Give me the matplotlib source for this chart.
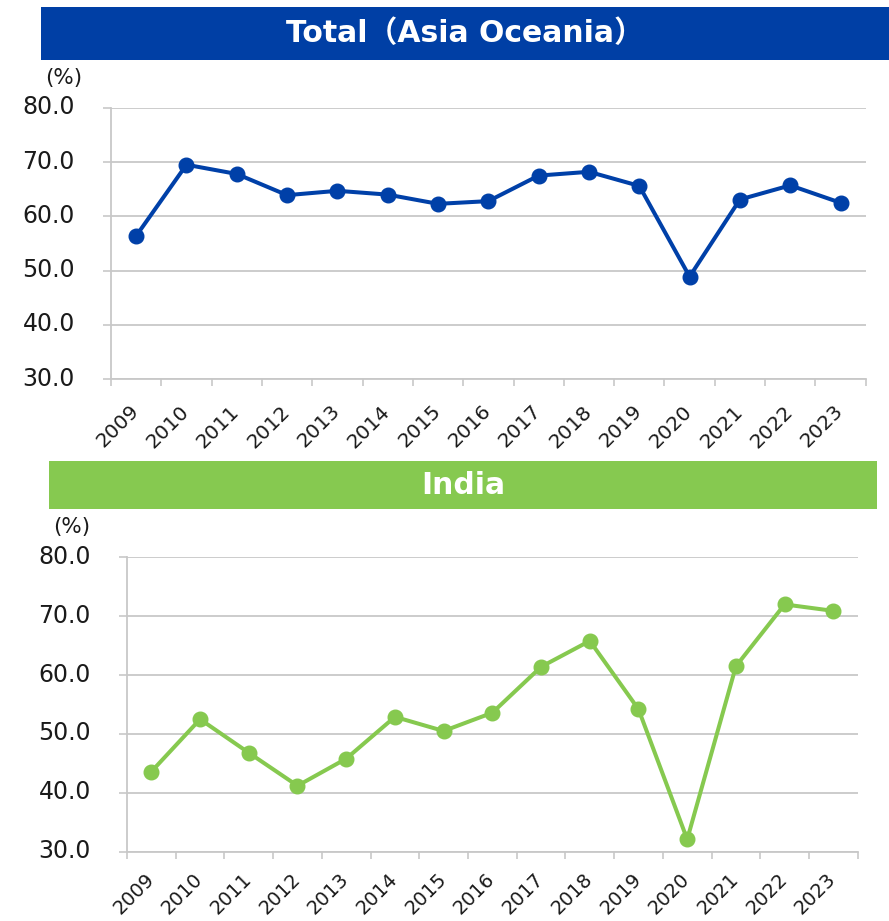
import matplotlib
matplotlib.use("Agg")
import matplotlib.pyplot as plt
from matplotlib.patches import Rectangle
from matplotlib.transforms import ScaledTranslation
import numpy as np

plt.rcParams["font.family"] = ["DejaVu Sans", "Noto Sans CJK JP"]

years = ["2009", "2010", "2011", "2012", "2013", "2014", "2015", "2016",
         "2017", "2018", "2019", "2020", "2021", "2022", "2023"]
total_asia_oceania = [56.4, 69.5, 67.8, 63.9, 64.7, 64.0, 62.3, 62.8,
                      67.5, 68.2, 65.6, 48.9, 63.1, 65.7, 62.5]
india = [43.6, 52.5, 46.8, 41.2, 45.8, 52.9, 50.5, 53.6,
         61.4, 65.8, 54.2, 32.1, 61.5, 72.0, 70.9]
yticks = [30.0, 40.0, 50.0, 60.0, 70.0, 80.0]
titles = ["Total（Asia Oceania）", "India"]
unit_label = "(%)"

W, H = 889, 921
fig = plt.figure(figsize=(W / 100, H / 100), dpi=100)

BLUE = "#003FA5"
GREEN = "#86C950"
GRID = "#C8C8C8"


def fx(px):
    return px / W


def fy(py):
    return 1 - py / H


def banner(x0, x1, y0, y1, color, text, dx=0):
    fig.patches.append(Rectangle((fx(x0), fy(y1)), fx(x1) - fx(x0), fy(y0) - fy(y1),
                                 transform=fig.transFigure, facecolor=color,
                                 edgecolor="none", zorder=0))
    fig.text((fx(x0) + fx(x1)) / 2 + fx(dx), (fy(y0) + fy(y1)) / 2, text,
             color="white", fontsize=21.5, fontweight="bold", ha="center",
             va="center", family=["DejaVu Sans", "Noto Sans CJK JP"])


def make_axes(rect, values, color, label_pad, label_dx, label_size):
    ax = fig.add_axes(rect)
    x = np.arange(len(years)) + 0.5
    ax.plot(x, values, color=color, lw=2.9, marker="o", markersize=10.5,
            markerfacecolor=color, markeredgecolor=color, zorder=3,
            clip_on=False)
    ax.set_xlim(0, len(years))
    ax.set_ylim(yticks[0], yticks[-1])
    ax.set_yticks(yticks)
    ax.set_yticklabels([f"{v:.1f}" for v in yticks], fontsize=17,
                       color="#1a1a1a")
    ax.set_xticks(x)
    ax.set_xticklabels(years, fontsize=label_size, rotation=45, ha="right",
                       va="top", rotation_mode="anchor", color="#1a1a1a")
    ax.set_xticks(np.arange(len(years) + 1), minor=True)
    ax.tick_params(axis="x", which="major", length=0, pad=label_pad)
    ax.tick_params(axis="x", which="minor", length=5.3, width=1.2,
                   color=GRID, direction="out")
    ax.tick_params(axis="y", which="major", length=6, width=1.2,
                   color=GRID, pad=20)
    ax.grid(axis="y", color=GRID, lw=1.3, zorder=0)
    ax.set_axisbelow(True)
    for s in ["top", "right"]:
        ax.spines[s].set_visible(False)
    for s in ["left", "bottom"]:
        ax.spines[s].set_color(GRID)
        ax.spines[s].set_linewidth(1.3)
    for lab in ax.get_yticklabels():
        lab.set_transform(lab.get_transform() +
                          ScaledTranslation(0, 3 / 100, fig.dpi_scale_trans))
    for lab in ax.get_xticklabels():
        lab.set_transform(lab.get_transform() +
                          ScaledTranslation(label_dx / 100, 0, fig.dpi_scale_trans))
    return ax


banner(41, 889, 7, 60, BLUE, titles[0])
banner(49, 877, 461, 509, GREEN, titles[1])

make_axes([fx(111), fy(379.3), fx(865.7) - fx(111), fy(107.7) - fy(379.3)],
          total_asia_oceania, "#0040A8", 16, -7, 14.5)
make_axes([fx(127), fy(851.7), fx(857.7) - fx(127), fy(557.3) - fy(851.7)],
          india, "#86C94F", 13, -7, 14)

fig.text(fx(64), fy(78), unit_label, fontsize=15.5, ha="center", va="center",
         color="#1a1a1a")
fig.text(fx(72), fy(527), unit_label, fontsize=15.5, ha="center", va="center",
         color="#1a1a1a")

fig.savefig("out.png", dpi=100, facecolor="white")
